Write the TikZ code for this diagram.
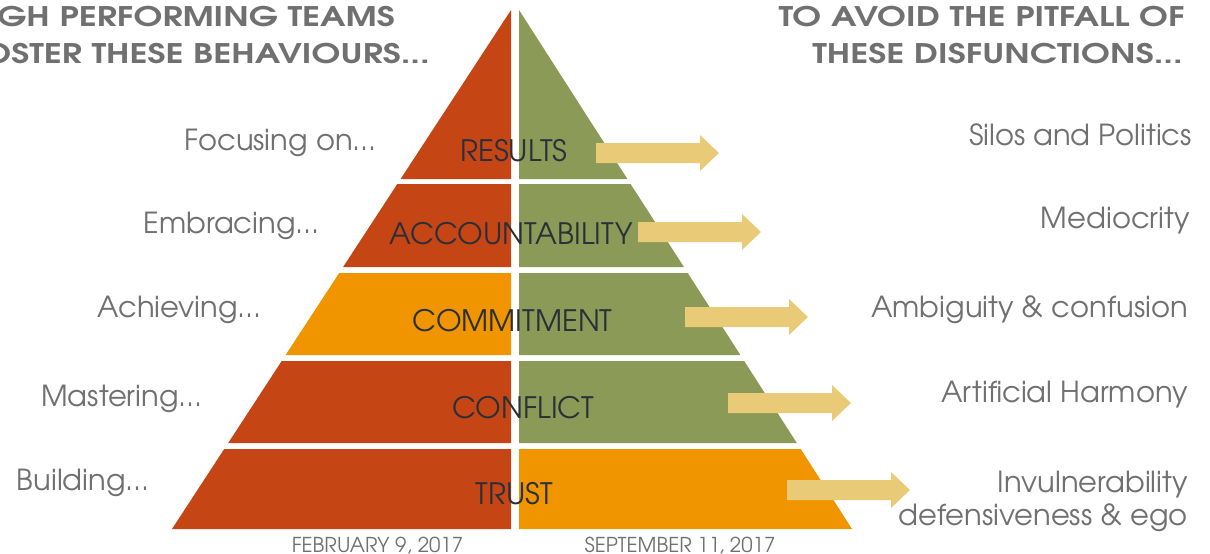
\documentclass[tikz,border=0pt]{standalone}
\usepackage{fontspec}
\setmainfont{texgyreadventor}[Extension=.otf, UprightFont=*-regular, BoldFont=*-bold]
\newfontfamily\headfont{texgyreadventor}[Extension=.otf, UprightFont=*-bold, FakeStretch=1.28]
\definecolor{rustc}{HTML}{C54614}
\definecolor{olivec}{HTML}{8B9A57}
\definecolor{amberc}{HTML}{F09500}
\definecolor{sandc}{HTML}{E9CA77}
\definecolor{inkc}{HTML}{2B2F3A}
\definecolor{greyc}{HTML}{707070}

\begin{document}
\begin{tikzpicture}[x=1pt,y=-1pt,
    band/.style={draw=none},
    blockarrow/.style={fill=sandc,draw=none},
    level/.style={inner sep=0pt,text=inkc,font=\fontsize{29.5}{31}\selectfont},
    behaviour/.style={inner sep=0pt,text=greyc,font=\fontsize{29}{31}\selectfont,anchor=base east},
    heading/.style={inner sep=0pt,text=greyc,font=\headfont\fontsize{27}{30}\selectfont,anchor=base east},
    datelbl/.style={inner sep=0pt,text=greyc,font=\fontsize{20.5}{22}\selectfont,anchor=base}]
        \useasboundingbox (0,0) rectangle (1210,554);

        \node[heading] (hl1) at (395, 27) {GH PERFORMING TEAMS};
        \node[heading] (hl2) at (430, 63) {OSTER THESE BEHAVIOURS...};
        \node[heading] (hr1) at (1185, 27) {TO AVOID THE PITFALL OF};
        \node[heading] (hr2) at (1183, 63) {THESE DISFUNCTIONS...};

        \fill[band, rustc] (511, 10) -- (511, 179) -- (400.6, 179) -- cycle;
        \fill[band, rustc] (397.3, 184) -- (511, 184) -- (511, 267) -- (343.1, 267) -- cycle;
        \fill[band, amberc] (339.2, 273) -- (511, 273) -- (511, 355) -- (285.6, 355) -- cycle;
        \fill[band, rustc] (281.7, 361) -- (511, 361) -- (511, 443) -- (228.2, 443) -- cycle;
        \fill[band, rustc] (224.2, 449) -- (511, 449) -- (511, 529) -- (172, 529) -- cycle;

        \fill[band, olivec] (519, 10) -- (627.4, 179) -- (519, 179) -- cycle;
        \fill[band, olivec] (519, 184) -- (630.6, 184) -- (683.9, 267) -- (519, 267) -- cycle;
        \fill[band, olivec] (519, 273) -- (687.7, 273) -- (740.4, 355) -- (519, 355) -- cycle;
        \fill[band, olivec] (519, 361) -- (744.2, 361) -- (796.8, 443) -- (519, 443) -- cycle;
        \fill[band, amberc] (519, 449) -- (800.7, 449) -- (852, 529) -- (519, 529) -- cycle;

        \fill[blockarrow] (596, 143) -- ++(104, 0) -- ++(0, -8) -- ++(19, 18) -- ++(-19, 18) -- ++(0, -8) -- ++(-104, 0) -- cycle;
        \fill[blockarrow] (638, 222) -- ++(104, 0) -- ++(0, -8) -- ++(19, 18) -- ++(-19, 18) -- ++(0, -8) -- ++(-104, 0) -- cycle;
        \fill[blockarrow] (685, 307) -- ++(104, 0) -- ++(0, -8) -- ++(19, 18) -- ++(-19, 18) -- ++(0, -8) -- ++(-104, 0) -- cycle;
        \fill[blockarrow] (728, 393) -- ++(104, 0) -- ++(0, -8) -- ++(19, 18) -- ++(-19, 18) -- ++(0, -8) -- ++(-104, 0) -- cycle;
        \fill[blockarrow] (787, 480) -- ++(104, 0) -- ++(0, -8) -- ++(19, 18) -- ++(-19, 18) -- ++(0, -8) -- ++(-104, 0) -- cycle;

        \node[level, anchor=base] (results) at (514, 161) {RESULTS};
        \node[level, anchor=base] (accountability) at (511, 244) {ACCOUNTABILITY};
        \node[level, anchor=base] (commitment) at (512.5, 331) {COMMITMENT};
        \node[level, anchor=base] (conflict) at (523.5, 418) {CONFLICT};
        \node[level, anchor=base] (trust) at (514.5, 504) {TRUST};

        \node[behaviour] (focus) at (377, 150) {Focusing on...};
        \node[behaviour] (embrace) at (320, 233) {Embracing...};
        \node[behaviour] (achieve) at (262, 317) {Achieving...};
        \node[behaviour] (master) at (203, 406) {Mastering...};
        \node[behaviour] (build) at (150, 490) {Building...};

        \node[behaviour] (silos) at (1192, 145) {Silos and Politics};
        \node[behaviour] (medio) at (1190, 228) {Mediocrity};
        \node[behaviour] (ambig) at (1188, 317) {Ambiguity \& confusion};
        \node[behaviour] (harmony) at (1188, 402) {Artificial Harmony};
        \node[behaviour] (invuln) at (1188, 492) {Invulnerability};
        \node[behaviour] (defens) at (1188, 525) {defensiveness \& ego};

        \node[datelbl] (feb) at (377.5, 552) {FEBRUARY 9, 2017};
        \node[datelbl] (sep) at (680, 552) {SEPTEMBER 11, 2017};

    \end{tikzpicture}
\end{document}
